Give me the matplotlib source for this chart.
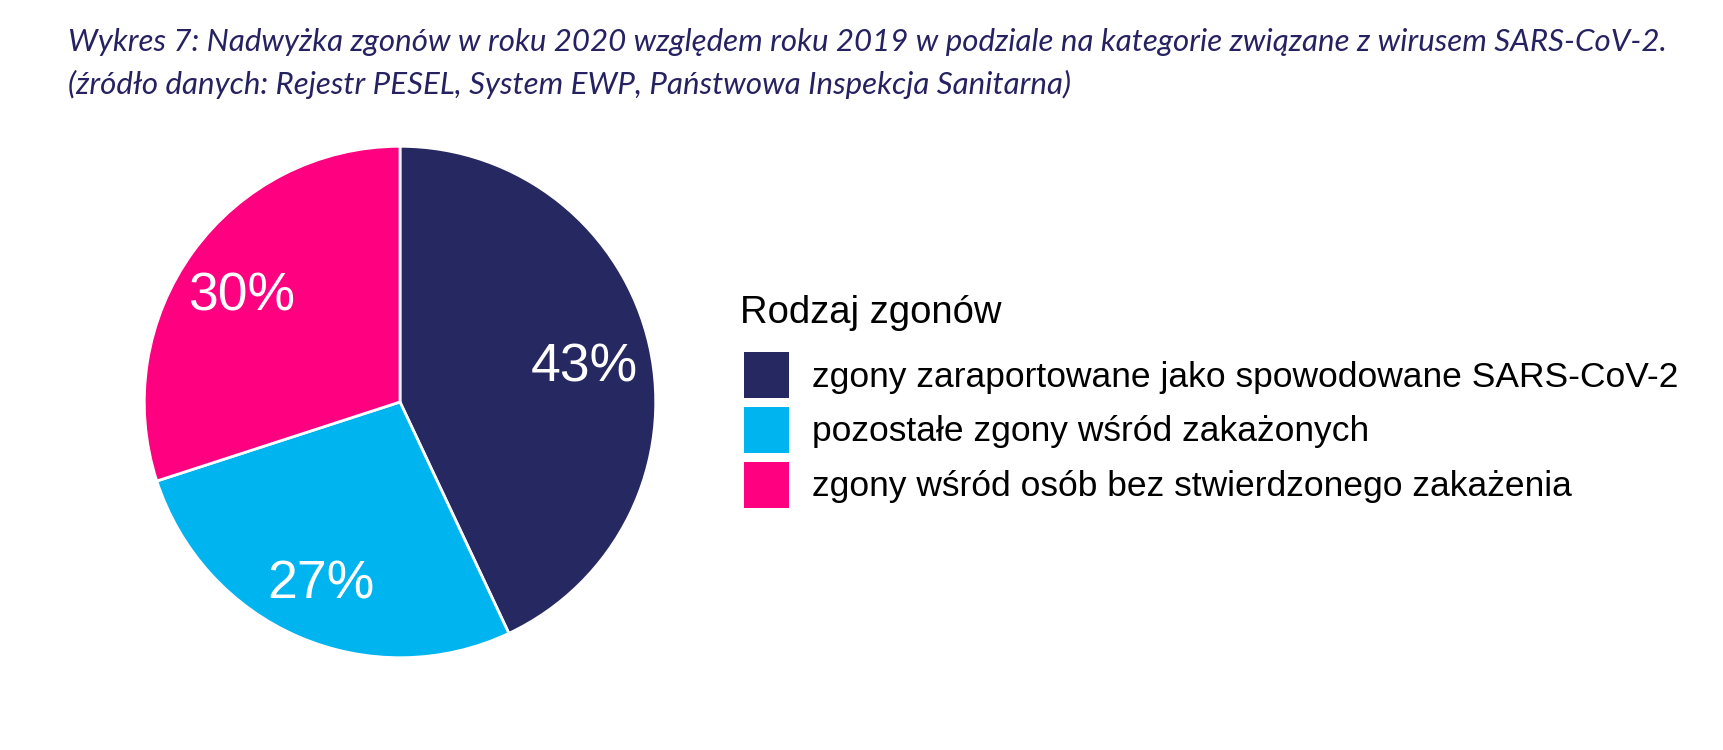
import matplotlib.pyplot as plt
from matplotlib.patches import Patch

# data
categories = [
    'zgony zaraportowane jako spowodowane SARS-CoV-2',
    'pozostałe zgony wśród zakażonych',
    'zgony wśród osób bez stwierdzonego zakażenia',
]
shares = [43, 27, 30]
colors = ['#262961', '#00B4F0', '#FE0080']

title_1 = 'Wykres 7: Nadwyżka zgonów w roku 2020 względem roku 2019 w podziale na kategorie związane z wirusem SARS-CoV-2.'
title_2 = '(źródło danych: Rejestr PESEL, System EWP, Państwowa Inspekcja Sanitarna)'
legend_title = 'Rodzaj zgonów'

W, H = 1724, 750
fig = plt.figure(figsize=(W / 100, H / 100), dpi=100)

# pie centre (400, 402) px, radius 257 px
cx, cy, r = 400, 402, 257
ax = fig.add_axes([(cx - r) / W, (H - cy - r) / H, 2 * r / W, 2 * r / H])
wedges, texts, autotexts = ax.pie(
    shares, colors=colors, startangle=90, counterclock=False,
    autopct='%1.0f%%', pctdistance=0.75,
    wedgeprops=dict(edgecolor='white', linewidth=2),
    textprops=dict(color='white', fontsize=38.5, family='Liberation Sans'),
)
# nudge labels so the glyphs sit where the reference has them
for t in autotexts:
    x, y = t.get_position()
    t.set_position((x - 0.012, y - 0.027))
ax.set_xlim(-1.005, 1.005)
ax.set_ylim(-1.005, 1.005)
ax.set_aspect('equal')
ax.axis('off')

# titles
fig.text(68 / W, 1 - 42 / H, title_1, fontsize=22.5, style='italic', family='Lato',
         color='#262262', va='center', ha='left')
fig.text(68 / W, 1 - 84 / H, title_2, fontsize=22.5, style='italic', family='Lato',
         color='#262262', va='center', ha='left')

# legend (title drawn separately to get the gap of the reference)
fig.text(740 / W, 1 - 313 / H, legend_title, fontsize=27.5, family='Liberation Sans',
         va='center', ha='left')
handles = [Patch(facecolor=c, edgecolor='none') for c in colors]
leg = fig.legend(handles, categories, loc='upper left',
                 bbox_to_anchor=(744 / W, 1 - 352 / H), frameon=False,
                 prop=dict(family='Liberation Sans', size=25.5),
                 handlelength=1.27, handleheight=1.62,
                 handletextpad=0.65, labelspacing=0.25, borderaxespad=0, borderpad=0)

fig.savefig('out.png', dpi=100, facecolor='white')
